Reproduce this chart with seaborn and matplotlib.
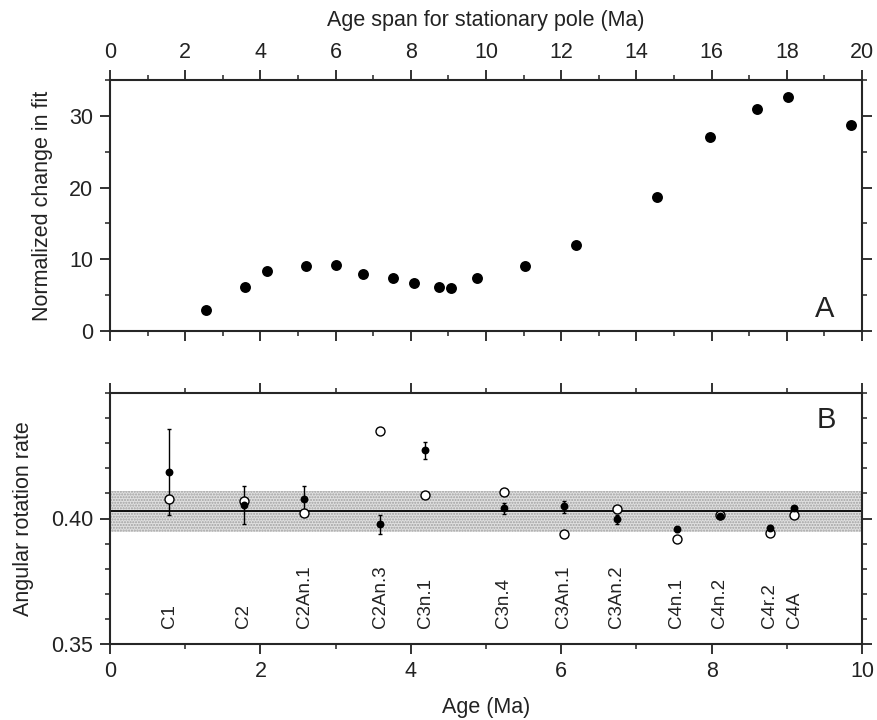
import matplotlib
matplotlib.use("Agg")
import matplotlib.pyplot as plt
import seaborn as sns
import numpy as np
import pandas as pd

# Panel A data
span = [2.56, 3.58, 4.18, 5.22, 6.02, 6.72, 7.52, 8.09, 8.75, 9.08, 9.76,
        11.03, 12.39, 14.56, 15.96, 17.22, 18.03, 19.71]
change = [2.9, 6.2, 8.4, 9.1, 9.2, 7.9, 7.4, 6.65, 6.2, 6.0, 7.45,
          9.1, 12.0, 18.65, 27.1, 30.9, 32.65, 28.75]

# Panel B data
chrons = ["C1", "C2", "C2An.1", "C2An.3", "C3n.1", "C3n.4", "C3An.1",
          "C3An.2", "C4n.1", "C4n.2", "C4r.2", "C4A"]
age = [0.785, 1.778, 2.585, 3.597, 4.19, 5.233, 6.035, 6.736, 7.534, 8.11, 8.77, 9.10]
rate_filled = [0.4187, 0.4053, 0.4079, 0.3980, 0.4273, 0.4040, 0.4048, 0.3997,
               0.3957, 0.4011, 0.3963, 0.4043]
err_lo = [0.4013, 0.3980, 0.4030, 0.3940, 0.4237, 0.4016, 0.4023, 0.3977,
          0.3945, 0.4005, 0.3950, 0.4037]
err_hi = [0.4356, 0.4129, 0.4129, 0.4013, 0.4304, 0.4063, 0.4069, 0.4013,
          0.3967, 0.4017, 0.3976, 0.4049]
rate_open = [0.4079, 0.4071, 0.4020, 0.4348, 0.4093, 0.4104, 0.3937, 0.4037,
             0.3919, 0.4015, 0.3943, 0.4015]
mean_rate = 0.4029
band_halfwidth = 0.0081

sns.set_style("ticks")
plt.rcParams['font.family'] = ['Liberation Sans', 'DejaVu Sans']
plt.rcParams['axes.linewidth'] = 1.5
FS = 15.5
FS_CHRON = 13.5

fig = plt.figure(figsize=(8.78, 7.2), dpi=100)
W, H = 878, 720
axA = fig.add_axes([110 / W, 1 - 331 / H, (862 - 110) / W, (331 - 80) / H])
axB = fig.add_axes([110 / W, 1 - 644 / H, (862 - 110) / W, (644 - 393) / H])


def style_ticks(ax):
    ax.tick_params(axis="x", which="both", top=True, bottom=True, direction="out")
    ax.tick_params(axis="y", which="both", left=True, right=True, direction="out")
    ax.tick_params(which="major", length=7, width=1.3, labelsize=FS, pad=5,
                   colors="#222222", labelcolor="#222222")
    ax.tick_params(which="minor", length=3.6, width=1.1, colors="#222222")


dfA = pd.DataFrame({"span": span, "change": change})
sns.scatterplot(data=dfA, x="span", y="change", ax=axA, color="black",
                s=62, edgecolor="black", linewidth=0, zorder=3, legend=False)
axA.set_xlim(0, 20)
axA.set_ylim(0, 35)
axA.set_xticks(np.arange(0, 21, 2))
axA.set_xticks(np.arange(1, 21, 2), minor=True)
axA.set_yticks(np.arange(0, 31, 10))
axA.set_yticks(np.arange(5, 36, 10), minor=True)
style_ticks(axA)
axA.xaxis.set_label_position("top")
axA.tick_params(axis="x", which="both", labeltop=True, labelbottom=False)
axA.set_xlabel("Age span for stationary pole (Ma)", fontsize=FS, labelpad=12,
               color="#222222")
axA.set_ylabel("Normalized change in fit", fontsize=FS, labelpad=12,
               color="#222222")
axA.text(0.963, 0.056, "A", transform=axA.transAxes, fontsize=21,
         ha="right", va="baseline", color="#222222")

# Panel B
axB.fill_between([0, 10], mean_rate - band_halfwidth, mean_rate + band_halfwidth,
                 facecolor="#e0e0e0", edgecolor="#a0a0a0", hatch="......",
                 linewidth=0, zorder=1)
axB.axhline(mean_rate, color="black", lw=1.3, zorder=2)
yerr = [np.array(rate_filled) - np.array(err_lo), np.array(err_hi) - np.array(rate_filled)]
axB.errorbar(age, rate_filled, yerr=yerr, fmt="none", ecolor="black",
             elinewidth=1.0, capsize=1.5, capthick=1.0, zorder=3)
dfB = pd.DataFrame({"age": age, "filled": rate_filled, "open": rate_open})
sns.scatterplot(data=dfB, x="age", y="open", ax=axB, marker="o", s=42,
                facecolor="white", edgecolor="black", linewidth=1.0, zorder=4,
                legend=False)
sns.scatterplot(data=dfB, x="age", y="filled", ax=axB, marker="o", s=32,
                color="black", linewidth=0, zorder=5, legend=False)
for a, name in zip(age, chrons):
    axB.text(a, 0.3565, name, rotation=90, ha="center", va="bottom",
             fontsize=FS_CHRON, color="#222222")
axB.set_xlim(0, 10)
axB.set_ylim(0.35, 0.45)
axB.set_xticks(np.arange(0, 11, 2))
axB.set_xticks(np.arange(1, 11, 2), minor=True)
axB.set_yticks([0.35, 0.40])
axB.set_yticklabels(["0.35", "0.40"])
axB.set_yticks([0.36, 0.37, 0.38, 0.39, 0.41, 0.42, 0.43, 0.44, 0.45], minor=True)
style_ticks(axB)
axB.set_xlabel("Age (Ma)", fontsize=FS, labelpad=11, color="#222222")
axB.set_ylabel("Angular rotation rate", fontsize=FS, labelpad=12, color="#222222")
axB.text(0.966, 0.861, "B", transform=axB.transAxes, fontsize=21,
         ha="right", va="baseline", color="#222222")

fig.savefig("out.png", dpi=100)
